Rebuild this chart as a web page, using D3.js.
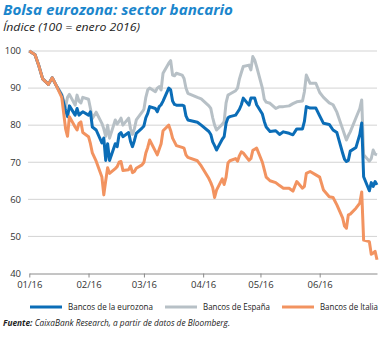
<!DOCTYPE html>
<html><head><meta charset="utf-8">
<script src="https://cdn.jsdelivr.net/npm/d3@7"></script>
<style>
body{margin:0;background:#fff;}
svg{display:block;font-family:"Open Sans",sans-serif;}
</style></head><body>
<svg id="c" width="381" height="338"></svg>
<script>
const dates = ["2016-01-01","2016-01-04","2016-01-06","2016-01-08","2016-01-11","2016-01-13","2016-01-15","2016-01-18","2016-01-20","2016-01-21","2016-01-22","2016-01-25","2016-01-26","2016-01-27","2016-01-28","2016-01-29","2016-02-01","2016-02-02","2016-02-03","2016-02-05","2016-02-08","2016-02-09","2016-02-10","2016-02-11","2016-02-12","2016-02-15","2016-02-16","2016-02-17","2016-02-18","2016-02-19","2016-02-22","2016-02-23","2016-02-24","2016-02-25","2016-02-26","2016-02-29","2016-03-01","2016-03-02","2016-03-03","2016-03-04","2016-03-07","2016-03-08","2016-03-09","2016-03-10","2016-03-11","2016-03-14","2016-03-15","2016-03-16","2016-03-17","2016-03-18","2016-03-21","2016-03-22","2016-03-23","2016-03-24","2016-03-29","2016-03-31","2016-04-04","2016-04-05","2016-04-06","2016-04-07","2016-04-08","2016-04-11","2016-04-12","2016-04-13","2016-04-14","2016-04-15","2016-04-18","2016-04-19","2016-04-20","2016-04-21","2016-04-22","2016-04-25","2016-04-26","2016-04-27","2016-04-28","2016-04-29","2016-05-02","2016-05-03","2016-05-04","2016-05-06","2016-05-09","2016-05-11","2016-05-13","2016-05-16","2016-05-18","2016-05-20","2016-05-23","2016-05-24","2016-05-25","2016-05-27","2016-05-30","2016-06-01","2016-06-03","2016-06-06","2016-06-08","2016-06-10","2016-06-13","2016-06-14","2016-06-15","2016-06-16","2016-06-17","2016-06-20","2016-06-22","2016-06-23","2016-06-24","2016-06-27","2016-06-28","2016-06-29","2016-06-30","2016-07-01"];

const eurozona = [100,99,96,92.5,91,92.8,90.8,88,84,82.3,85.2,82.7,84.5,82.7,83.2,83.6,82.7,83.6,79.5,78.7,75.2,76.5,70.5,75,70.5,75,74.2,77.5,78,76.9,78,75.6,74.2,75.8,77.8,79.2,79.8,82,83.2,85,84.5,83.6,85,85.5,86.5,90,89.5,86.5,85.6,85.4,85.4,85.2,82.5,81.4,80.8,80,78.3,77.5,75.5,74.5,73.3,76.2,76.9,80.5,82,82.3,82.7,83.5,84.3,85.5,87.3,85.4,87.3,87.3,87.3,85.5,83,81,79.5,78.3,78.5,77.5,78.2,77.8,77.4,79,79,81,85,84.6,84.6,82.5,80.5,80.2,78.7,78,72.5,70.8,70.2,70.5,73,74,77.5,80.6,66.1,62.3,64.5,63.5,64.8,63.9];

const espana = [100,99,96,92.5,91,92.8,90.8,88.3,85,87.5,88.3,85.4,88.1,86.5,86,87.5,87,84.5,81.8,83.5,80.5,79,77,80,76.5,81.4,80.3,81,81.9,80,81.9,79,77.5,79,81.4,83.5,84.3,87.5,89.5,90,89,90,90.4,89.5,94,96.7,97.4,93.5,93.3,94,93.5,92.6,90,88.6,87.5,87.1,85.2,84.5,82,80,78.7,80.2,81,86,88.1,88.4,89.3,90,92.5,94.2,95.8,96.2,94.9,98.5,97.5,95.8,90,87,86.2,85.9,84.5,85,85,85.2,85.8,86.3,86.5,89,93.5,91.3,91.3,88.8,87.5,86,85.5,83.5,79,77.5,76,77.2,78.2,82,84.5,86.8,72,70.3,71,73.3,72.2,72];

const italia = [100,99,96,92.5,91,92.8,90.8,87.5,79,77,82.3,79.5,78.7,80.5,80.9,78,76.9,75,72.5,70.3,66,61.2,65,68.5,67,68.3,68.8,70,70.2,67.8,68,69,67.2,67.5,68.4,69.3,70,72.5,74,76,73,72,73.5,75,78.5,80,78.5,76.5,75.5,74.5,74,73.8,72,71.3,70.4,69,65.6,64.5,63.2,60.5,62.5,65.5,64,66,69.8,70.4,71,70.3,71.8,72.8,72.5,70.5,71,73.2,73.5,73.8,70,68,66,65,64.5,63.7,63,63,62.2,64.8,63,63.5,67,67.5,66.6,66,62.5,60.7,60.5,58.5,55,52.8,52.2,55.8,56,57.6,59,62,49,48.6,45.2,45.5,46,43.7];

const seriesNames = ["Bancos de la eurozona","Bancos de España","Bancos de Italia"];
const seriesColors = ["#0b6db7","#b7c0c6","#f29360"];
const yTicks = [40,50,60,70,80,90,100];
const xTickDates = ["2016-01-01","2016-02-01","2016-03-01","2016-04-01","2016-05-01","2016-06-01"];
const xTickLabels = ["01/16","02/16","03/16","04/16","05/16","06/16"];
const xDomain = ["2016-01-01","2016-07-01"];

const parse = d3.timeParse("%Y-%m-%d");
const svg = d3.select("#c");

const x = d3.scaleTime().domain(xDomain.map(parse)).range([29.3, 377]);
const y = d3.scaleLinear().domain([40, 100]).range([273.5, 51]);

// title
svg.append("text").attr("x",3).attr("y",15).attr("fill","#1b86cc")
  .attr("font-size",15).attr("font-weight","bold").attr("font-style","italic")
  .attr("textLength",230).attr("lengthAdjust","spacingAndGlyphs")
  .text("Bolsa eurozona: sector bancario");
svg.append("text").attr("x",3).attr("y",31).attr("fill","#222")
  .attr("font-size",11.5).attr("font-style","italic")
  .attr("textLength",137).attr("lengthAdjust","spacingAndGlyphs")
  .text("Índice (100 = enero 2016)");

// grid
svg.append("g").selectAll("line").data(yTicks.filter(v=>v>40)).join("line")
  .attr("x1",28).attr("x2",377).attr("y1",d=>y(d)).attr("y2",d=>y(d))
  .attr("stroke","#d3d3d3").attr("stroke-width",1);

// y labels
svg.append("g").selectAll("text").data(yTicks).join("text")
  .attr("x",21).attr("y",d=>y(d)).attr("dy","0.35em").attr("text-anchor","end")
  .attr("font-size",9.5).attr("fill","#333").text(d=>d);

// x axis
const xAxis = d3.axisBottom(x).tickValues(xTickDates.map(parse))
  .tickFormat((d,i)=>xTickLabels[i]).tickSize(4).tickSizeOuter(0).tickPadding(4);
const gx = svg.append("g").attr("transform",`translate(0,${y(40)})`).call(xAxis);
gx.select(".domain").attr("stroke","#8a8a8a");
gx.selectAll(".tick line").attr("stroke","#8a8a8a");
gx.selectAll(".tick text").attr("font-size",9.5).attr("fill","#333").attr("font-family","Open Sans, sans-serif");

// lines
const line = d3.line().x((d,i)=>x(parse(dates[i]))).y(d=>y(d)).curve(d3.curveLinear);
const data = [espana, eurozona, italia];
const colors = [seriesColors[1], seriesColors[0], seriesColors[2]];
svg.append("g").selectAll("path").data(data).join("path")
  .attr("d",line).attr("fill","none").attr("stroke",(d,i)=>colors[i])
  .attr("stroke-width",3).attr("stroke-linejoin","round");

// legend
const legX = [30, 165, 282];
const legW = [85, 67, 58];
const lg = svg.append("g").selectAll("g").data(seriesNames).join("g")
  .attr("transform",(d,i)=>`translate(${legX[i]},307)`);
lg.append("line").attr("x1",0).attr("x2",32).attr("stroke",(d,i)=>seriesColors[i]).attr("stroke-width",3);
lg.append("text").attr("x",38).attr("dy","0.35em").attr("font-size",8.5).attr("fill","#222")
  .attr("textLength",(d,i)=>legW[i]).attr("lengthAdjust","spacingAndGlyphs").text(d=>d);

// source
const src = svg.append("text").attr("x",3).attr("y",326).attr("font-size",8.5).attr("font-style","italic").attr("fill","#222")
  .attr("textLength",227).attr("lengthAdjust","spacingAndGlyphs");
src.append("tspan").attr("font-weight","bold").text("Fuente: ");
src.append("tspan").text("CaixaBank Research, a partir de datos de Bloomberg.");
</script>
</body></html>
